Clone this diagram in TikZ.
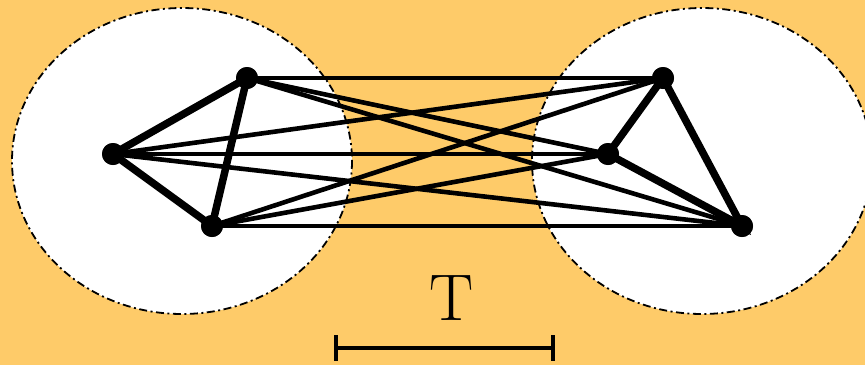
\documentclass[tikz,border=0pt]{standalone}
\usetikzlibrary{calc}
\begin{document}
\begin{tikzpicture}[x=1pt,y=-1pt,
  bgfill/.style={fill=bgc},
  zone/.style={fill=white,draw=black,line width=1.8pt,dash pattern=on 8pt off 3.5pt on 2pt off 3.5pt},
  vert/.style={circle,fill=black,inner sep=0pt,minimum size=22pt},
  strong/.style={line width=7.5pt},
  weak/.style={line width=4.6pt},
  bar/.style={line width=4.8pt}]
\definecolor{bgc}{RGB}{254,203,105}
\fill[bgfill] (0,0) rectangle (865,365);
\useasboundingbox (0,0) rectangle (865,365);
\draw[zone] (182,161) ellipse [x radius=170, y radius=153];
\draw[zone] (702,161) ellipse [x radius=170, y radius=153];
\node[vert] (A) at (247,78) {};
\node[vert] (B) at (113,154) {};
\node[vert] (C) at (212,226) {};
\node[vert] (D) at (663,78) {};
\node[vert] (E) at (608,154) {};
\node[vert] (F) at (742,226) {};
\foreach \u in {A,B,C}{\foreach \v in {D,E,F}{\draw[weak] (\u.center) -- (\v.center);}}
\draw[strong] (A.center) -- (B.center) -- (C.center) -- cycle;
\draw[strong] (D.center) -- (E.center) -- (F.center) -- cycle;
\foreach \n in {A,B,C,D,E,F}{\fill (\n) circle (11);}
\node[font=\fontsize{66}{70}\selectfont,inner sep=0pt] (T) at (452,298) {T};
\coordinate (L) at (336,348);
\coordinate (R) at (553,348);
\draw[bar] (L) -- (R);
\draw[bar] ($(L)+(0,-13)$) -- ($(L)+(0,13)$);
\draw[bar] ($(R)+(0,-13)$) -- ($(R)+(0,13)$);
\end{tikzpicture}
\end{document}
